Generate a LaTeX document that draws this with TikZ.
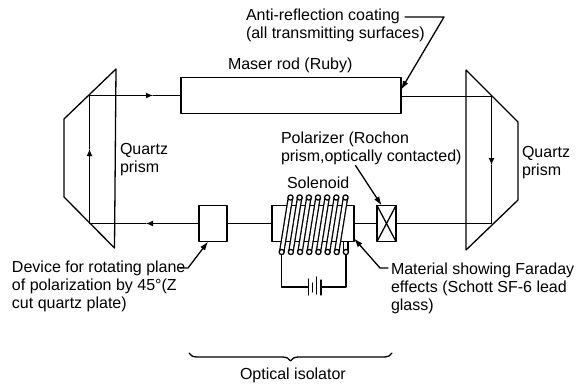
\documentclass[tikz,border=0pt]{standalone}
\usepackage{fontspec}
\setmainfont{Liberation Sans}
\usetikzlibrary{arrows.meta,decorations.pathreplacing}
\tikzset{
  drawLine/.style={draw=black,line width=1.3pt,line join=round,line cap=round},
  beamTip/.style={drawLine,-{Latex[length=7pt,width=6pt]}},
  leaderTip/.style={drawLine,-{Latex[length=9pt,width=6pt]}},
  opticBox/.style={drawLine,fill=white,minimum width=#1,inner sep=0pt,outer sep=0pt},
  labelText/.style={anchor=west,align=left,inner sep=0pt,outer sep=0pt,font=\fontsize{16}{18}\selectfont}
}
\begin{document}
\begin{tikzpicture}[x=1pt,y=-1pt]
\path[use as bounding box,fill=white] (0,0) rectangle (577,385);

\coordinate (hitTopLeft) at (89.5,95.5);
\coordinate (hitBotLeft) at (89.5,223.5);
\coordinate (hitTopRight) at (491.5,96.5);
\coordinate (hitBotRight) at (491.5,223.5);
\coordinate (arrowTop) at (153,95.5);
\coordinate (arrowLeft) at (89.5,149);
\coordinate (arrowBot) at (146,223.5);
\coordinate (arrowRight) at (491.5,165);

\path[drawLine] (116,69) -- (64,119) -- (64,197) -- (114.5,248) -- cycle;
\path[drawLine] (466,70) -- (518,122) -- (518,200) -- (466,250) -- cycle;

\node[opticBox=220pt,minimum height=36pt] (masRod) at (291,95.5) {};
\node[opticBox=28pt,minimum height=36pt] (rotDevice) at (213,223.5) {};
\node[opticBox=82pt,minimum height=36pt] (farRod) at (313,223.5) {};
\node[opticBox=19pt,minimum height=36pt] (polBox) at (386.5,223.5) {};

\path[drawLine] (polBox.north west) -- (polBox.south east);
\path[drawLine] (polBox.south west) -- (polBox.north east);

\path[beamTip] (hitTopLeft) -- (arrowTop);
\path[drawLine] (arrowTop) -- (masRod.west);
\path[beamTip] (hitBotLeft) -- (arrowLeft);
\path[drawLine] (arrowLeft) -- (hitTopLeft);
\path[beamTip] (rotDevice.west) -- (arrowBot);
\path[drawLine] (arrowBot) -- (hitBotLeft);
\path[drawLine] (farRod.west) -- (rotDevice.east);
\path[drawLine] (polBox.west) -- (farRod.east);
\path[drawLine] (hitBotRight) -- (polBox.east);
\path[drawLine] (masRod.east |- hitTopRight) -- (hitTopRight);
\path[beamTip] (hitTopRight) -- (arrowRight);
\path[drawLine] (arrowRight) -- (hitBotRight);

\foreach \i in {0,...,6} {
  \path[draw=black,line width=5.6pt] ({281.7+9.17*\i},252) -- ({290.5+9.17*\i},197.5);
  \path[draw=white,line width=3pt] ({281.7+9.17*\i},252) -- ({290.5+9.17*\i},197.5);
  \path[drawLine,fill=white] ({290.5+9.17*\i},197.5) circle (2.6);
  \path[drawLine,fill=white] ({281.7+9.17*\i},252) circle (2.6);
}
\path[draw=black,line width=5.6pt] (345.9,252) -- (345.9,242);
\path[draw=white,line width=3pt] (345.9,252) -- (345.9,242);
\path[drawLine,fill=white] (345.9,252) circle (2.6);

\coordinate (leadLeft) at (281.7,254.6);
\coordinate (leadRight) at (345.9,254.6);
\coordinate (batLeft) at (308.5,287);
\coordinate (batRight) at (321,287);
\path[drawLine] (leadLeft) |- (batLeft);
\path[drawLine] (leadRight) |- (batRight);
\path[drawLine] (308.5,279) -- (308.5,295);
\path[drawLine] (312.5,283) -- (312.5,292);
\path[drawLine] (316.5,277) -- (316.5,294);
\path[drawLine] (321,280) -- (321,295);

\node[labelText] (antiText) at (246,25) {Anti-reflection coating\\(all transmitting surfaces)};
\node[labelText] (rodText) at (228,65) {Maser rod (Ruby)};
\node[labelText] (leftQuartz) at (120,160) {Quartz\\prism};
\node[labelText] (rightQuartz) at (522,163) {Quartz\\prism};
\node[labelText] (polText) at (281,148) {Polarizer (Rochon\\prism,optically contacted)};
\node[labelText] (solText) at (287,183) {Solenoid};
\node[labelText] (devText) at (12,286) {Device for rotating plane\\of polarization by 45°(Z\\cut quartz plate)};
\node[labelText] (matText) at (391,288) {Material showing Faraday\\effects (Schott SF-6 lead\\glass)};
\node[labelText] (isoText) at (240,375) {Optical isolator};

\coordinate (antiBend) at (444,17);
\coordinate (antiStart) at (405,17);
\path[leaderTip] (antiStart) -- (antiBend) -- (masRod.3.6);
\coordinate (polStart) at (355.5,165.5);
\path[leaderTip] (polStart) -- (polBox.105);
\coordinate (matStart) at (388,268);
\coordinate (matBend) at (380,268);
\path[leaderTip] (matStart) -- (matBend) -- (farRod.-20);
\coordinate (devStart) at (180,268);
\coordinate (devBend) at (188,268);
\path[leaderTip] (devStart) -- (devBend) -- (rotDevice.255);

\coordinate (braceLeft) at (189,353);
\coordinate (braceRight) at (392,353);
\path[drawLine,decorate,decoration={brace,mirror,amplitude=8pt}] (braceLeft) -- (braceRight);
\end{tikzpicture}
\end{document}
